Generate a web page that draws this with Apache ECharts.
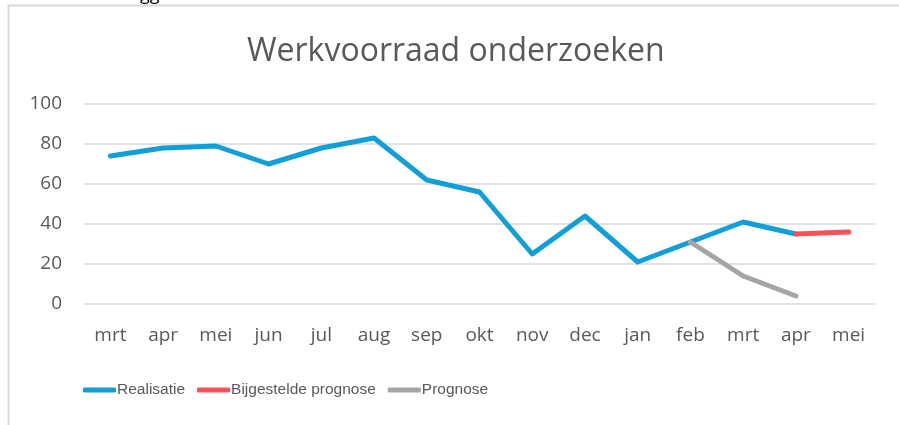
<!DOCTYPE html>
<html>
<head>
<meta charset="utf-8">
<script src="https://cdn.jsdelivr.net/npm/echarts@6/dist/echarts.min.js"></script>
<style>
  html, body { margin: 0; padding: 0; background: #fff; }
  #chart { width: 899px; height: 425px; }
</style>
</head>
<body>
<div id="chart"></div>
<script>
const months = ['mrt', 'apr', 'mei', 'jun', 'jul', 'aug', 'sep', 'okt', 'nov', 'dec', 'jan', 'feb', 'mrt', 'apr', 'mei'];
const realisatie = [74, 78, 79, 70, 78, 83, 62, 56, 25, 44, 21, 31, 41, 35, null];
const bijgesteld = [null, null, null, null, null, null, null, null, null, null, null, null, null, 35, 36];
const prognose = [null, null, null, null, null, null, null, null, null, null, null, 31, 14, 4, null];
const yTicks = [0, 20, 40, 60, 80, 100];

const font = 'Open Sans, Noto Sans, sans-serif';
const chart = echarts.init(document.getElementById('chart'));

const lineSeries = (name, data, color) => ({
  name,
  type: 'line',
  data,
  symbol: 'none',
  connectNulls: false,
  lineStyle: { width: 5, color, cap: 'round', join: 'round' },
  itemStyle: { color },
});

chart.setOption({
  animation: false,
  title: {
    text: 'Werkvoorraad onderzoeken',
    left: 242,
    top: 31,
    textStyle: { fontFamily: font, fontSize: 32, fontWeight: 'normal', color: '#595959' },
  },
  graphic: [
    {
      type: 'rect',
      shape: { x: 8.5, y: 5.5, width: 900, height: 430 },
      style: { fill: 'none', stroke: '#d9d9d9', lineWidth: 2 },
    },
    {
      type: 'text',
      left: 140,
      top: -14,
      style: { text: 'gg', fontFamily: font, fontSize: 18, fill: '#000' },
    },
  ],
  grid: { left: 84, right: 24, top: 104, height: 200, containLabel: false },
  legend: {
    top: 382,
    left: 83,
    padding: 0,
    itemGap: 12,
    itemWidth: 33,
    itemHeight: 5,
    icon: 'roundRect',
    textStyle: { fontFamily: 'Liberation Sans, Arial, sans-serif', fontSize: 15.5, color: '#595959', padding: [0, 0, 0, -4] },
    data: ['Realisatie', 'Bijgestelde prognose', 'Prognose'],
  },
  xAxis: {
    type: 'category',
    data: months,
    boundaryGap: true,
    axisLine: { show: false },
    axisTick: { show: false },
    axisLabel: { fontFamily: font, fontSize: 19, color: '#595959', margin: 22, interval: 0 },
  },
  yAxis: {
    type: 'value',
    min: yTicks[0],
    max: yTicks[yTicks.length - 1],
    interval: 20,
    axisLine: { show: false },
    axisTick: { show: false },
    axisLabel: { fontFamily: font, fontSize: 19, color: '#595959', margin: 22 },
    splitLine: { lineStyle: { color: '#d9d9d9', width: 1.5 } },
  },
  series: [
    lineSeries('Realisatie', realisatie, '#119fda'),
    lineSeries('Bijgestelde prognose', bijgesteld, '#fb4f5a'),
    lineSeries('Prognose', prognose, '#a5a5a5'),
  ],
});
</script>
</body>
</html>
